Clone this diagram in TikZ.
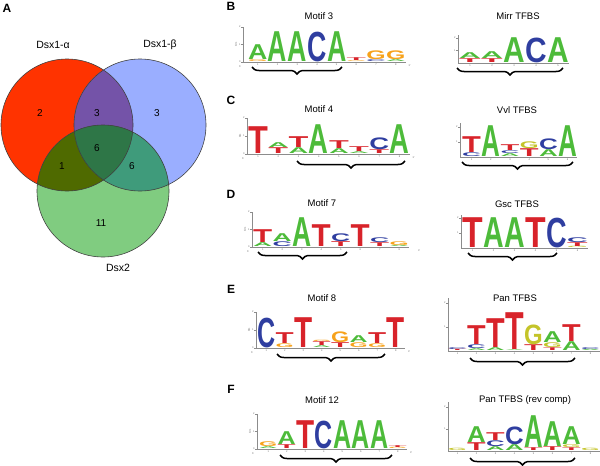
\documentclass[tikz,border=0pt]{standalone}
\usepackage{fontspec}
\setmainfont{Liberation Sans}
\usepackage{graphicx}
\usepackage{tikz}
\usetikzlibrary{decorations.pathreplacing}
\definecolor{rosso}{HTML}{FF3300}
\definecolor{celeste}{HTML}{9AAEFF}
\definecolor{verde}{HTML}{80CC80}
\definecolor{viola}{HTML}{7453A8}
\definecolor{oliva}{HTML}{4F6A00}
\definecolor{verdeacqua}{HTML}{3F9B7B}
\definecolor{verdescuro}{HTML}{2E7647}
\definecolor{verdeA}{HTML}{4DBB3A}
\definecolor{bluC}{HTML}{2F3EA0}
\definecolor{arancio}{HTML}{F7A21B}
\definecolor{giallo}{HTML}{C4C42A}
\definecolor{rossoT}{HTML}{D8232A}

\newcounter{nlet}
% colonna, base, altezza, colore, lettera
\newcommand{\lett}[5]{\stepcounter{nlet}%
  \node[lettera, text=#4] (let\arabic{nlet}) at ({#1*\lw+0.2},{-(#2)-0.1})
    {\resizebox*{\dimexpr\lw pt-0.4pt\relax}{\dimexpr#3pt-0.2pt\relax}{\bfseries #5}};}

\begin{document}
\begin{tikzpicture}[x=1pt, y=-1pt,
    titolo/.style={font=\fontsize{9.5}{10}\selectfont, inner sep=0pt},
    pannello/.style={font=\fontsize{12}{12}\selectfont\bfseries, inner sep=0pt},
    insieme/.style={font=\fontsize{10.5}{11}\selectfont, inner sep=0pt},
    numero/.style={font=\fontsize{10}{10}\selectfont, inner sep=0pt},
    bordo/.style={draw=black!75, line width=0.6pt},
    asse/.style={draw=black!45, line width=0.4pt},
    tacca/.style={font=\fontsize{2.5}{3}\selectfont, text=black!60, inner sep=0.3pt},
    lettera/.style={inner sep=0pt, outer sep=0pt, anchor=south west},
    graffa/.style={decorate, decoration={brace, amplitude=7pt, mirror}, line width=1.5pt}
  ]
  \useasboundingbox (0,0) rectangle (600,466);

  % Pannelli
  \node[pannello] (pA) at (7,8) {A};
  \node[pannello] (pB) at (231,6) {B};
  \node[pannello] (pC) at (231,100) {C};
  \node[pannello] (pD) at (231,194) {D};
  \node[pannello] (pE) at (231,289) {E};
  \node[pannello] (pF) at (231,389) {F};

  % Venn
  \coordinate (alfa) at (67,125);
  \coordinate (beta) at (140,125);
  \coordinate (dsx) at (103,191);
  \fill[rosso] (alfa) circle[radius=66];
  \fill[celeste] (beta) circle[radius=66];
  \fill[verde] (dsx) circle[radius=66];
  \begin{scope}
    \clip (alfa) circle[radius=66];
    \fill[viola] (beta) circle[radius=66];
    \fill[oliva] (dsx) circle[radius=66];
  \end{scope}
  \begin{scope}
    \clip (beta) circle[radius=66];
    \fill[verdeacqua] (dsx) circle[radius=66];
  \end{scope}
  \begin{scope}
    \clip (alfa) circle[radius=66];
    \clip (beta) circle[radius=66];
    \fill[verdescuro] (dsx) circle[radius=66];
  \end{scope}
  \foreach \c in {alfa,beta,dsx}
    \draw[bordo] (\c) circle[radius=66];
  \node[insieme] (nomeA) at (53,45) {Dsx1-α};
  \node[insieme] (nomeB) at (160,45) {Dsx1-β};
  \node[insieme] (nomeC) at (118,268) {Dsx2};
  \node[numero] (solA) at (40,113) {2};
  \node[numero] (AB) at (97,113) {3};
  \node[numero] (solB) at (157,113) {3};
  \node[numero] (ABC) at (97,148) {6};
  \node[numero] (AC) at (62,166) {1};
  \node[numero] (BC) at (132,166) {6};
  \node[numero] (solC) at (101,223) {11};

  % Titoli
  \node[titolo] (tB1) at (319,16) {Motif 3};
  \node[titolo] (tB2) at (518,16) {Mirr TFBS};
  \node[titolo] (tC1) at (319,109) {Motif 4};
  \node[titolo] (tC2) at (517,110) {Vvl TFBS};
  \node[titolo] (tD1) at (322,203) {Motif 7};
  \node[titolo] (tD2) at (517,204) {Gsc TFBS};
  \node[titolo] (tE1) at (322,298) {Motif 8};
  \node[titolo] (tE2) at (515,298) {Pan TFBS};
  \node[titolo] (tF1) at (322,400) {Motif 12};
  \node[titolo] (tF2) at (525,400) {Pan TFBS (rev comp)};

  % B: Motif 3
  \begin{scope}[shift={(248,62)}]
    \def\lw{19.7}
    \draw[asse] (-5,-35) -- (-5,0) -- (8*\lw,0);
    \foreach \q/\v in {0/0,17.5/1,35/2}
      \draw[asse] (-5,-\q) -- (-7,-\q) node[tacca,left] (yB\v) {\v};
    \node[tacca,rotate=90] (bitsB) at (-12,-17.5) {bits};
    \node[tacca] (cinqueB) at (-8,5) {5'};
    \node[tacca] (treB) at (8*\lw+4,4) {3'};
    \foreach \i in {1,...,8}
      \node[tacca] (xB\i) at ({(\i-0.5)*\lw},3) {\i};
    \lett{0}{0}{2}{arancio}{G} \lett{0}{2}{15}{verdeA}{A}
    \lett{1}{0}{30}{verdeA}{A}
    \lett{2}{0}{30}{verdeA}{A}
    \lett{3}{0}{30}{bluC}{C}
    \lett{4}{0}{30}{verdeA}{A}
    \lett{5}{0}{1}{arancio}{G} \lett{5}{1}{3}{rossoT}{T}
    \lett{6}{0}{2}{bluC}{C} \lett{6}{2}{9}{arancio}{G}
    \lett{7}{0}{2}{verdeA}{A} \lett{7}{2}{9}{arancio}{G}
  \end{scope}

  % B: Mirr
  \begin{scope}[shift={(459,63)}]
    \def\lw{22}
    \draw[asse] (-1,-28) -- (-1,0) -- (5*\lw,0);
    \foreach \q/\v in {12.5/1,25/2}
      \draw[asse] (-1,-\q) -- (-3,-\q) node[tacca,left] (yMi\v) {\v};
    \foreach \i in {1,...,5}
      \node[tacca] (xMi\i) at ({(\i-0.5)*\lw},2.5) {\i};
    \lett{0}{0}{4}{rossoT}{T} \lett{0}{4}{6}{verdeA}{A}
    \lett{1}{0}{4}{rossoT}{T} \lett{1}{4}{7}{verdeA}{A}
    \lett{2}{0}{25}{verdeA}{A}
    \lett{3}{0}{25}{bluC}{C}
    \lett{4}{0}{25}{verdeA}{A}
  \end{scope}

  % C: Motif 4
  \begin{scope}[shift={(248,154)}]
    \def\lw{20.2}
    \draw[asse] (-1,-36) -- (-1,0) -- (8*\lw,0);
    \foreach \q/\v in {0/0,18/1,36/2}
      \draw[asse] (-1,-\q) -- (-3,-\q) node[tacca,left] (yC\v) {\v};
    \node[tacca,rotate=90] (bitsC) at (-8,-18) {bits};
    \node[tacca] (cinqueC) at (-5,5) {5'};
    \node[tacca] (treC) at (8*\lw+4,4) {3'};
    \foreach \i in {1,...,8}
      \node[tacca] (xC\i) at ({(\i-0.5)*\lw},3) {\i};
    \lett{0}{0}{27}{rossoT}{T}
    \lett{1}{0}{6}{rossoT}{T} \lett{1}{6}{5}{verdeA}{A}
    \lett{2}{0}{6}{verdeA}{A} \lett{2}{6}{11}{rossoT}{T}
    \lett{3}{0}{29}{verdeA}{A}
    \lett{4}{0}{5}{verdeA}{A} \lett{4}{5}{8}{rossoT}{T}
    \lett{5}{0}{2}{verdeA}{A} \lett{5}{2}{5}{rossoT}{T}
    \lett{6}{0}{4}{rossoT}{T} \lett{6}{4}{12}{bluC}{C}
    \lett{7}{0}{29}{verdeA}{A}
  \end{scope}

  % C: Vvl
  \begin{scope}[shift={(462,157)}]
    \def\lw{19.2}
    \draw[asse] (-2,-34) -- (-2,0) -- (6*\lw,0);
    \foreach \q/\v in {15/1,30/2}
      \draw[asse] (-2,-\q) -- (-4,-\q) node[tacca,left] (yV\v) {\v};
    \foreach \i in {1,...,6}
      \node[tacca] (xV\i) at ({(\i-0.5)*\lw},2.5) {\i};
    \lett{0}{0}{4}{bluC}{C} \lett{0}{4}{16}{rossoT}{T}
    \lett{1}{0}{31}{verdeA}{A}
    \lett{2}{0}{3}{verdeA}{A} \lett{2}{3}{3}{bluC}{C} \lett{2}{6}{6}{rossoT}{T}
    \lett{3}{0}{8}{rossoT}{T} \lett{3}{8}{7}{giallo}{G}
    \lett{4}{0}{7}{verdeA}{A} \lett{4}{7}{11}{bluC}{C}
    \lett{5}{0}{31}{verdeA}{A}
  \end{scope}

  % D: Motif 7
  \begin{scope}[shift={(253,247)}]
    \def\lw{19.5}
    \draw[asse] (-1,-35) -- (-1,0) -- (8*\lw,0);
    \foreach \q/\v in {0/0,17.5/1,35/2}
      \draw[asse] (-1,-\q) -- (-3,-\q) node[tacca,left] (yD\v) {\v};
    \node[tacca,rotate=90] (bitsD) at (-8,-17.5) {bits};
    \node[tacca] (cinqueD) at (-5,5) {5'};
    \node[tacca] (treD) at (8*\lw+10,4) {3'};
    \foreach \i in {1,...,8}
      \node[tacca] (xD\i) at ({(\i-0.5)*\lw},3) {\i};
    \lett{0}{0}{4}{verdeA}{A} \lett{0}{4}{13}{rossoT}{T}
    \lett{1}{0}{5}{bluC}{C} \lett{1}{5}{8}{verdeA}{A}
    \lett{2}{0}{29}{verdeA}{A}
    \lett{3}{0}{22}{rossoT}{T}
    \lett{4}{0}{5}{rossoT}{T} \lett{4}{5}{8}{bluC}{C}
    \lett{5}{0}{22}{rossoT}{T}
    \lett{6}{0}{4}{rossoT}{T} \lett{6}{4}{5}{bluC}{C}
    \lett{7}{0}{1.5}{verdeA}{A} \lett{7}{1.5}{4}{arancio}{G}
  \end{scope}

  % D: Gsc
  \begin{scope}[shift={(462,248)}]
    \def\lw{21}
    \draw[asse] (-1,-33) -- (-1,0) -- (6*\lw,0);
    \foreach \q/\v in {15/1,30/2}
      \draw[asse] (-1,-\q) -- (-3,-\q) node[tacca,left] (yG\v) {\v};
    \foreach \i in {1,...,6}
      \node[tacca] (xG\i) at ({(\i-0.5)*\lw},2.5) {\i};
    \lett{0}{0}{30}{rossoT}{T}
    \lett{1}{0}{30}{verdeA}{A}
    \lett{2}{0}{30}{verdeA}{A}
    \lett{3}{0}{30}{rossoT}{T}
    \lett{4}{0}{30}{bluC}{C}
    \lett{5}{0}{1.5}{giallo}{G} \lett{5}{1.5}{4}{rossoT}{T} \lett{5}{5.5}{5}{bluC}{C}
  \end{scope}

  % E: Motif 8
  \begin{scope}[shift={(257,348)}]
    \def\lw{18.5}
    \draw[asse] (-1,-36) -- (-1,0) -- (8*\lw,0);
    \foreach \q/\v in {0/0,18/1,36/2}
      \draw[asse] (-1,-\q) -- (-3,-\q) node[tacca,left] (yE\v) {\v};
    \node[tacca,rotate=90] (bitsE) at (-8,-18) {bits};
    \node[tacca] (cinqueE) at (-5,5) {5'};
    \node[tacca] (treE) at (8*\lw+4,4) {3'};
    \foreach \i in {1,...,8}
      \node[tacca] (xE\i) at ({(\i-0.5)*\lw},3) {\i};
    \lett{0}{0}{30}{bluC}{C}
    \lett{1}{0}{4}{arancio}{G} \lett{1}{4}{11}{rossoT}{T}
    \lett{2}{0}{30}{rossoT}{T}
    \lett{3}{0}{2}{verdeA}{A} \lett{3}{2}{4}{rossoT}{T} \lett{3}{6}{1.5}{arancio}{G}
    \lett{4}{0}{5}{rossoT}{T} \lett{4}{5}{11}{arancio}{G}
    \lett{5}{0}{5}{arancio}{G} \lett{5}{5}{7}{verdeA}{A}
    \lett{6}{0}{4}{arancio}{G} \lett{6}{4}{11}{rossoT}{T}
    \lett{7}{0}{30}{rossoT}{T}
  \end{scope}

  % E: Pan
  \begin{scope}[shift={(448,351)}]
    \def\lw{19}
    \draw[asse] (0,-53) -- (0,0) -- (8*\lw,0);
    \foreach \q/\v in {24/1,48/2}
      \draw[asse] (0,-\q) -- (-2,-\q) node[tacca,left] (yP\v) {\v};
    \foreach \i in {1,...,8}
      \node[tacca] (xP\i) at ({(\i-0.5)*\lw},3) {\i};
    \lett{0}{0}{1.5}{rossoT}{T} \lett{0}{1.5}{2}{bluC}{C}
    \lett{1}{0}{2}{verdeA}{A} \lett{1}{2}{4}{bluC}{C} \lett{1}{6}{19}{rossoT}{T}
    \lett{2}{0}{3}{verdeA}{A} \lett{2}{3}{29}{rossoT}{T}
    \lett{3}{0}{1}{verdeA}{A} \lett{3}{1}{37}{rossoT}{T}
    \lett{4}{0}{6}{rossoT}{T} \lett{4}{6}{20}{giallo}{G}
    \lett{5}{0}{3}{rossoT}{T} \lett{5}{3}{5}{giallo}{G} \lett{5}{8}{11}{verdeA}{A}
    \lett{6}{0}{9}{verdeA}{A} \lett{6}{9}{17}{rossoT}{T}
    \lett{7}{0}{1.5}{verdeA}{A} \lett{7}{1.5}{2}{bluC}{C}
  \end{scope}

  % F: Motif 12
  \begin{scope}[shift={(259,449)}]
    \def\lw{18.5}
    \draw[asse] (-2,-35) -- (-2,0) -- (8*\lw,0);
    \foreach \q/\v in {0/0,17.5/1,35/2}
      \draw[asse] (-2,-\q) -- (-4,-\q) node[tacca,left] (yF\v) {\v};
    \node[tacca,rotate=90] (bitsF) at (-9,-17.5) {bits};
    \node[tacca] (cinqueF) at (-6,5) {5'};
    \node[tacca] (treF) at (8*\lw+4,4) {3'};
    \foreach \i in {1,...,8}
      \node[tacca] (xF\i) at ({(\i-0.5)*\lw},3) {\i};
    \lett{0}{0}{2}{verdeA}{A} \lett{0}{2}{5}{arancio}{G}
    \lett{1}{0}{4}{rossoT}{T} \lett{1}{4}{13}{verdeA}{A}
    \lett{2}{0}{28}{rossoT}{T}
    \lett{3}{0}{28}{bluC}{C}
    \lett{4}{0}{28}{verdeA}{A}
    \lett{5}{0}{28}{verdeA}{A}
    \lett{6}{0}{28}{verdeA}{A}
    \lett{7}{0}{1.5}{arancio}{G} \lett{7}{1.5}{2}{rossoT}{T}
  \end{scope}

  % F: Pan (rev comp)
  \begin{scope}[shift={(448,451)}]
    \def\lw{19}
    \draw[asse] (0,-49) -- (0,0) -- (8*\lw,0);
    \foreach \q/\v in {22/1,44/2}
      \draw[asse] (0,-\q) -- (-2,-\q) node[tacca,left] (yR\v) {\v};
    \foreach \i in {1,...,8}
      \node[tacca] (xR\i) at ({(\i-0.5)*\lw},3) {\i};
    \lett{0}{0}{2.5}{giallo}{G}
    \lett{1}{0}{8}{rossoT}{T} \lett{1}{8}{16}{verdeA}{A}
    \lett{2}{0}{4}{verdeA}{A} \lett{2}{4}{6}{bluC}{C} \lett{2}{10}{8}{rossoT}{T}
    \lett{3}{0}{6}{verdeA}{A} \lett{3}{6}{18}{bluC}{C}
    \lett{4}{0}{3}{rossoT}{T} \lett{4}{3}{32}{verdeA}{A}
    \lett{5}{0}{4}{rossoT}{T} \lett{5}{4}{25}{verdeA}{A}
    \lett{6}{0}{3}{rossoT}{T} \lett{6}{3}{3}{giallo}{G} \lett{6}{6}{18}{verdeA}{A}
    \lett{7}{0}{2.5}{giallo}{G}
  \end{scope}

  % Graffe
  \coordinate (gB1) at (252,67);  \coordinate (gB2) at (342,67);
  \coordinate (gB3) at (457,68);  \coordinate (gB4) at (563,68);
  \coordinate (gC1) at (297,161); \coordinate (gC2) at (405,161);
  \coordinate (gC3) at (462,162); \coordinate (gC4) at (573,162);
  \coordinate (gD1) at (258,252); \coordinate (gD2) at (347,252);
  \coordinate (gD3) at (468,253); \coordinate (gD4) at (557,253);
  \coordinate (gE1) at (277,354); \coordinate (gE2) at (385,354);
  \coordinate (gE3) at (470,358); \coordinate (gE4) at (575,358);
  \coordinate (gF1) at (280,455); \coordinate (gF2) at (392,455);
  \coordinate (gF3) at (470,458); \coordinate (gF4) at (575,458);
  \foreach \g in {B,C,D,E,F} {
    \draw[graffa] (g\g1) -- (g\g2);
    \draw[graffa] (g\g3) -- (g\g4);
  }
\end{tikzpicture}
\end{document}
